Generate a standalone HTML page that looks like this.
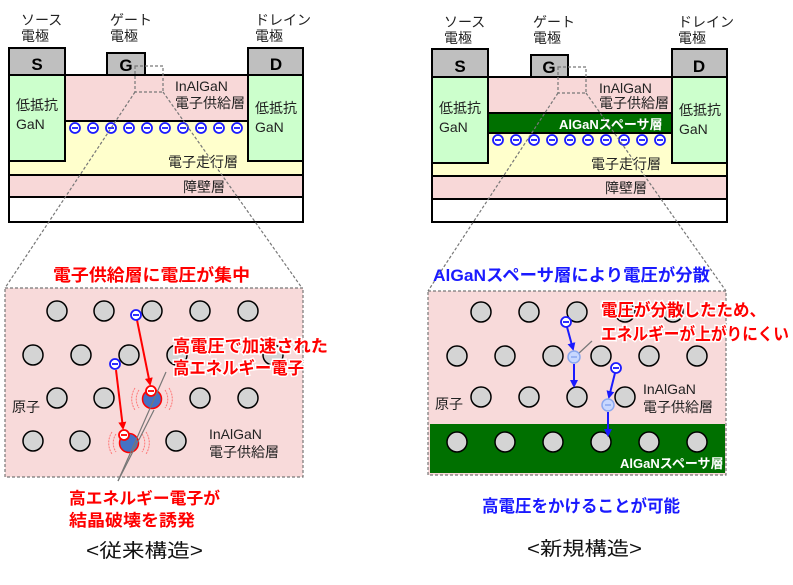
<!DOCTYPE html>
<html><head><meta charset="utf-8"><style>
html,body{margin:0;padding:0;background:#fff;}
svg{display:block;font-family:"Liberation Sans","Noto Sans CJK JP",sans-serif;}
.b{font-weight:bold;}
</style></head><body>
<svg width="793" height="585" viewBox="0 0 793 585" xmlns="http://www.w3.org/2000/svg">
<defs>
<marker id="ar" markerWidth="8" markerHeight="8" refX="6" refY="4" orient="auto" markerUnits="userSpaceOnUse"><path d="M0,0 L8,4 L0,8 z" fill="#f00"/></marker>
<marker id="ab" markerWidth="8" markerHeight="8" refX="6" refY="4" orient="auto" markerUnits="userSpaceOnUse"><path d="M0,0 L8,4 L0,8 z" fill="#1a1aff"/></marker>
<g id="el"><circle r="5" fill="#fff" stroke="#1a1aff" stroke-width="1.8"/><line x1="-3" y1="0" x2="3" y2="0" stroke="#1a1aff" stroke-width="1.8"/></g>
<g id="elr"><circle r="5" fill="#fff" stroke="#f00" stroke-width="1.8"/><line x1="-3" y1="0" x2="3" y2="0" stroke="#f00" stroke-width="1.8"/></g>
<g id="ell"><circle r="6" fill="#c8d8ff" stroke="#8aa8f0" stroke-width="1.5"/><line x1="-3" y1="0" x2="3" y2="0" stroke="#8aa8f0" stroke-width="1.5"/></g>
</defs>

<!-- LEFT device -->
<g stroke="#000" stroke-width="2">
<rect x="9" y="197" width="294" height="25" fill="#fff"/>
<rect x="9" y="175" width="294" height="22" fill="#f8d8d8"/>
<rect x="9" y="121" width="294" height="54" fill="#ffffcc"/>
<rect x="65" y="75" width="183" height="46" fill="#f8d8d8"/>
<rect x="9" y="75" width="56" height="86" fill="#ccffcc"/>
<rect x="248" y="75" width="55" height="86" fill="#ccffcc"/>
<rect x="9" y="48" width="56" height="27" fill="#bfbfbf"/>
<rect x="107" y="53" width="38" height="22" fill="#bfbfbf"/>
<rect x="248" y="48" width="55" height="27" fill="#bfbfbf"/>
</g>
<g font-size="14" fill="#222">
<text x="21" y="25">ソース</text><text x="21" y="41">電極</text>
<text x="110" y="25">ゲート</text><text x="110" y="41">電極</text>
<text x="255" y="25">ドレイン</text><text x="255" y="41">電極</text>
<text x="175" y="91">InAlGaN</text><text x="175" y="108">電子供給層</text>
<text x="16" y="110">低抵抗</text><text x="16" y="129">GaN</text>
<text x="255" y="113">低抵抗</text><text x="255" y="132">GaN</text>
<text x="168" y="167">電子走行層</text>
<text x="183" y="192">障壁層</text>
</g>
<g font-size="17" class="b" text-anchor="middle"><text x="37" y="70">S</text><text x="126" y="71">G</text><text x="276" y="70">D</text></g>
<g transform="translate(0,128)">
<use href="#el" x="75"/><use href="#el" x="93"/><use href="#el" x="111"/><use href="#el" x="129"/><use href="#el" x="147"/><use href="#el" x="165"/><use href="#el" x="183"/><use href="#el" x="201"/><use href="#el" x="219"/><use href="#el" x="237"/>
</g>
<g fill="none" stroke="#777" stroke-width="1.2" stroke-dasharray="3,2">
<rect x="135" y="66" width="28" height="26"/>
<line x1="135" y1="92" x2="5" y2="288"/><line x1="163" y1="92" x2="302" y2="288"/>
<rect x="5" y="288" width="298" height="189" fill="#f8dada"/>
</g>
<text x="53" y="281" font-size="17" class="b" fill="#f00" textLength="197" lengthAdjust="spacingAndGlyphs">電子供給層に電圧が集中</text>
<g fill="#d4d4d4" stroke="#000" stroke-width="1.5">
<circle cx="57" cy="311" r="10"/><circle cx="104" cy="311" r="10"/><circle cx="152" cy="311" r="10"/><circle cx="200" cy="311" r="10"/><circle cx="248" cy="311" r="10"/>
<circle cx="33" cy="355" r="10"/><circle cx="81" cy="355" r="10"/><circle cx="129" cy="355" r="10"/><circle cx="177" cy="355" r="10"/><circle cx="273" cy="355" r="10"/>
<circle cx="57" cy="398" r="10"/><circle cx="104" cy="398" r="10"/><circle cx="200" cy="398" r="10"/><circle cx="248" cy="398" r="10"/>
<circle cx="33" cy="441" r="10"/><circle cx="80" cy="441" r="10"/><circle cx="176" cy="441" r="10"/>
</g>
<g fill="none" stroke="#f77" stroke-width="1" stroke-dasharray="2,1">
<path d="M139,390 a16,16 0 0 0 0,18 M135,388 a20,20 0 0 0 0,22 M165,390 a16,16 0 0 1 0,18 M169,388 a20,20 0 0 1 0,22"/>
<path d="M116,434 a16,16 0 0 0 0,18 M112,432 a20,20 0 0 0 0,22 M142,434 a16,16 0 0 1 0,18 M146,432 a20,20 0 0 1 0,22"/>
</g>
<circle cx="152" cy="399" r="9.5" fill="#4472c4" stroke="#f00" stroke-width="1.5"/>
<circle cx="129" cy="443" r="9.5" fill="#4472c4" stroke="#f00" stroke-width="1.5"/>
<g stroke="#f00" stroke-width="2">
<line x1="137" y1="320" x2="150" y2="384" marker-end="url(#ar)"/>
<line x1="116" y1="370" x2="123" y2="428" marker-end="url(#ar)"/>
</g>
<use href="#elr" x="151" y="391"/><use href="#elr" x="124" y="435"/>
<use href="#el" x="136" y="315"/><use href="#el" x="115" y="364"/>
<g stroke="#777" stroke-width="1.2"><line x1="118" y1="481" x2="166" y2="372"/><line x1="118" y1="481" x2="154" y2="410"/></g>
<g font-size="17" class="b" fill="#f00" stroke="#fff" stroke-width="3" paint-order="stroke">
<text x="173" y="352" textLength="155" lengthAdjust="spacingAndGlyphs">高電圧で加速された</text><text x="173" y="374" textLength="131" lengthAdjust="spacingAndGlyphs">高エネルギー電子</text>
</g>
<g font-size="14" fill="#222"><text x="12" y="412">原子</text><text x="209" y="439">InAlGaN</text><text x="209" y="457">電子供給層</text></g>
<g font-size="16.5" class="b" fill="#f00"><text x="69" y="504" textLength="151" lengthAdjust="spacingAndGlyphs">高エネルギー電子が</text><text x="69" y="526" textLength="126" lengthAdjust="spacingAndGlyphs">結晶破壊を誘発</text></g>
<text x="86" y="557" font-size="19" fill="#111" textLength="117" lengthAdjust="spacingAndGlyphs">&lt;従来構造&gt;</text>

<!-- RIGHT device -->
<g stroke="#000" stroke-width="2">
<rect x="432" y="199" width="295" height="23" fill="#fff"/>
<rect x="432" y="176" width="295" height="23" fill="#f8d8d8"/>
<rect x="432" y="133" width="295" height="43" fill="#ffffcc"/>
<rect x="488" y="77" width="184" height="36" fill="#f8d8d8"/>
<rect x="488" y="113" width="184" height="20" fill="#007000"/>
<rect x="432" y="77" width="56" height="86" fill="#ccffcc"/>
<rect x="672" y="77" width="55" height="86" fill="#ccffcc"/>
<rect x="432" y="49" width="56" height="28" fill="#bfbfbf"/>
<rect x="531" y="55" width="37" height="22" fill="#bfbfbf"/>
<rect x="672" y="49" width="55" height="28" fill="#bfbfbf"/>
</g>
<g font-size="14" fill="#222">
<text x="444" y="27">ソース</text><text x="444" y="43">電極</text>
<text x="533" y="27">ゲート</text><text x="533" y="43">電極</text>
<text x="678" y="27">ドレイン</text><text x="678" y="43">電極</text>
<text x="599" y="93">InAlGaN</text><text x="599" y="108">電子供給層</text>
<text x="439" y="113">低抵抗</text><text x="439" y="132">GaN</text>
<text x="679" y="115">低抵抗</text><text x="679" y="134">GaN</text>
<text x="591" y="169">電子走行層</text>
<text x="605" y="193">障壁層</text>
</g>
<text x="559" y="129" font-size="13" class="b" fill="#fff">AlGaNスペーサ層</text>
<g font-size="17" class="b" text-anchor="middle"><text x="460" y="72">S</text><text x="549" y="73">G</text><text x="699" y="72">D</text></g>
<g transform="translate(0,140)">
<use href="#el" x="498"/><use href="#el" x="516"/><use href="#el" x="534"/><use href="#el" x="552"/><use href="#el" x="570"/><use href="#el" x="588"/><use href="#el" x="606"/><use href="#el" x="624"/><use href="#el" x="642"/><use href="#el" x="660"/>
</g>
<g fill="none" stroke="#777" stroke-width="1.2" stroke-dasharray="3,2">
<rect x="558" y="67" width="28" height="26"/>
<line x1="558" y1="93" x2="428" y2="291"/><line x1="586" y1="93" x2="726" y2="291"/>
<rect x="428" y="291" width="298" height="184" fill="#f8dada"/>
</g>
<rect x="430" y="424" width="295" height="49" fill="#007000"/>
<text x="433" y="281" font-size="17" class="b" fill="#1a1aff" textLength="277" lengthAdjust="spacingAndGlyphs">AlGaNスペーサ層により電圧が分散</text>
<g fill="#d4d4d4" stroke="#000" stroke-width="1.5">
<circle cx="481" cy="312" r="10"/><circle cx="529" cy="312" r="10"/><circle cx="577" cy="312" r="10"/><circle cx="625" cy="312" r="10"/><circle cx="673" cy="312" r="10"/>
<circle cx="457" cy="356" r="10"/><circle cx="505" cy="356" r="10"/><circle cx="553" cy="356" r="10"/><circle cx="601" cy="356" r="10"/><circle cx="649" cy="356" r="10"/><circle cx="697" cy="356" r="10"/>
<circle cx="481" cy="397" r="10"/><circle cx="529" cy="397" r="10"/><circle cx="577" cy="397" r="10"/><circle cx="625" cy="397" r="10"/>
<circle cx="457" cy="442" r="10"/><circle cx="505" cy="442" r="10"/><circle cx="553" cy="442" r="10"/><circle cx="601" cy="442" r="10"/><circle cx="649" cy="442" r="10"/><circle cx="697" cy="442" r="10"/>
</g>
<g stroke="#1a1aff" stroke-width="2">
<line x1="567" y1="327" x2="573" y2="349" marker-end="url(#ab)"/>
<line x1="574" y1="364" x2="574" y2="386" marker-end="url(#ab)"/>
<line x1="615" y1="373" x2="609" y2="397" marker-end="url(#ab)"/>
<line x1="608" y1="412" x2="608" y2="435" marker-end="url(#ab)"/>
</g>
<line x1="578" y1="354" x2="592" y2="341" stroke="#777" stroke-width="1.2"/>
<use href="#ell" x="574" y="357"/><use href="#ell" x="608" y="405"/>
<use href="#el" x="566" y="322"/><use href="#el" x="616" y="368"/>
<g font-size="17" class="b" fill="#f00" stroke="#fff" stroke-width="3" paint-order="stroke">
<text x="601" y="316" textLength="165" lengthAdjust="spacingAndGlyphs">電圧が分散したため、</text><text x="601" y="340" textLength="188" lengthAdjust="spacingAndGlyphs">エネルギーが上がりにくい</text>
</g>
<g font-size="14" fill="#222"><text x="435" y="409">原子</text><text x="643" y="394">InAlGaN</text><text x="643" y="412">電子供給層</text></g>
<text x="620" y="468" font-size="13" class="b" fill="#fff">AlGaNスペーサ層</text>
<text x="482" y="512" font-size="17" class="b" fill="#1a1aff" textLength="198" lengthAdjust="spacingAndGlyphs">高電圧をかけることが可能</text>
<text x="527" y="555" font-size="19" fill="#111" textLength="115" lengthAdjust="spacingAndGlyphs">&lt;新規構造&gt;</text>
</svg>
</body></html>
